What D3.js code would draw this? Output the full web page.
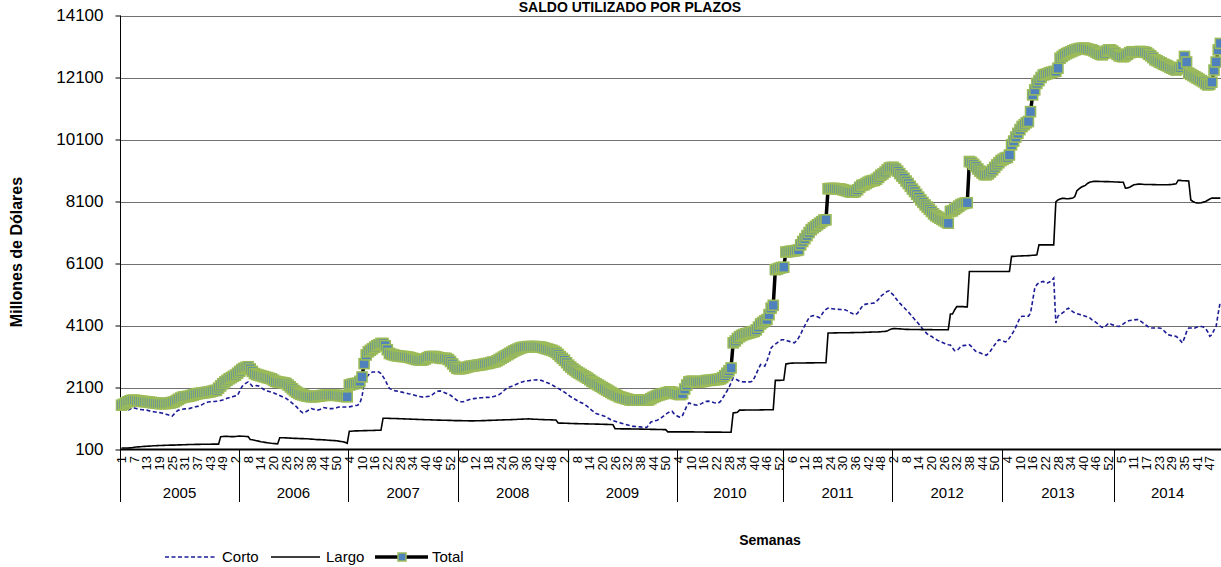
<!DOCTYPE html>
<html>
<head>
<meta charset="utf-8">
<script src="https://cdn.jsdelivr.net/npm/d3@7"></script>
<style>
body { margin: 0; background: #fff; }
svg { display: block; }
text { font-family: "Liberation Sans", Arial, sans-serif; fill: #000; }
</style>
</head>
<body>
<script>
// categories: one per week, grouped by year
var years = ['2005', '2006', '2007', '2008', '2009', '2010', '2011', '2012', '2013', '2014']
var weeksPerYear = [56, 52, 52, 52, 52, 50, 52, 52, 53, 51]

// week labels shown on the axis (every 6th category)
var weekTicks = [1,7,13,19,25,31,37,43,49, 2,8,14,20,26,32,38,44,50, 4,10,16,22,28,34,40,46,52,
	6,12,18,24,30,36,42,48, 2,8,14,20,26,32,38,44,50, 4,10,16,22,28,34,40,46,52,
	6,12,18,24,30,36,42,48, 2,8,14,20,26,32,38,44,50, 4,10,16,22,28,34,40,46,52,
	5,11,17,23,29,35,41,47]

var yTicks = [100, 2100, 4100, 6100, 8100, 10100, 12100, 14100]

// Corto (short term), millions of dollars
var corto = [
	1370,1380,1370,1375,1400,1455,1440,1420,1400,1390, 1380,1375,1370,1350,1330,1320,1310,1300,1290,1280, 1260,1240,1220,1200,1175,1250,1320,1370,1380,1400, 1410,1420,1420,1440,1460,1480,1490,1500,1540,1580, 1610,1630,1640,1650,1650,1655,1660,1680,1700,1730, 1750,1770,1790,1810,1830,1850,
	1980,2120,2200,2240,2280,2220,2140,2150,2160,2150, 2100,2060,2010,1990,1970,1950,1930,1900,1870,1840, 1810,1780,1750,1700,1650,1590,1530,1475,1400,1330, 1280,1300,1340,1380,1420,1400,1380,1370,1390,1420, 1455,1440,1420,1420,1420,1440,1450,1470,1475,1470,1470,1475,
	1475,1490,1500,1520,1530,1600,1800,2230,2400,2500, 2560,2600,2600,2610,2600,2550,2450,2340,2200,2070, 2040,2010,1990,1980,1960,1950,1930,1920,1900,1890, 1870,1850,1830,1810,1800,1790,1800,1810,1820,1850, 1900,1950,1980,1990,1970,1940,1910,1890,1850,1800,1740,1690,
	1660,1640,1640,1660,1690,1710,1730,1740,1750,1760, 1770,1770,1775,1780,1780,1790,1800,1820,1840,1870, 1920,1980,2040,2090,2120,2140,2170,2200,2230,2260, 2280,2300,2310,2320,2330,2340,2340,2345,2340,2330, 2300,2270,2250,2220,2190,2150,2110,2070,2030,1990,1950,1900,
	1850,1800,1760,1720,1680,1640,1610,1580,1530,1480, 1420,1360,1310,1260,1240,1220,1200,1175,1140,1100, 1060,1030,1010,990,970,950,930,910,890,870, 850,845,840,835,830,820,815,810,900,990, 1010,1030,1045,1080,1130,1180,1230,1280,1320,1335,1250,1200,
	1160,1140,1200,1350,1500,1600,1580,1560,1540,1530, 1550,1580,1620,1650,1660,1650,1630,1610,1600,1600, 1650,1750,1870,1980,2100,2250,2410,2380,2340,2300, 2290,2280,2280,2280,2280,2300,2400,2550,2700,2840, 2820,2790,2950,3150,3380,3450,3500,3550,3600,3640,
	3640,3620,3600,3580,3560,3540,3600,3700,3820,3970, 4100,4230,4350,4400,4420,4400,4380,4350,4450,4560, 4620,4660,4650,4640,4630,4625,4620,4615,4610,4610, 4580,4540,4500,4470,4450,4500,4600,4700,4770,4790, 4800,4810,4820,4830,4880,4950,5040,5100,5150,5200,5220,5150,
	5080,4990,4900,4820,4750,4680,4610,4540,4460,4380, 4300,4230,4150,4060,3980,3900,3830,3770,3750,3700, 3660,3620,3590,3560,3530,3500,3480,3470,3380,3290, 3290,3350,3430,3450,3460,3470,3480,3420,3340,3270, 3240,3220,3190,3160,3140,3200,3280,3380,3480,3560,3640,3620,
	3600,3570,3600,3700,3800,3910,4050,4200,4350,4400, 4400,4400,4400,4500,4900,5300,5420,5480,5500,5520, 5480,5470,5500,5550,5630,4180, 4400,4450,4500,4550,4620,4660,4600,4550,4500,4480, 4460,4440,4420,4400,4380,4350,4290,4250,4200,4150, 4080,4040,4060,4100,4180,4150,4120,
	4100,4080,4070,4100,4150,4200,4240,4260,4270,4280, 4290,4290,4250,4200,4150,4100,4050,4020,4020,4020, 4020,4020,4000,3950,3880,3810,3790,3770,3760,3750, 3700,3620,3540,3700,3900,4020,4020,4010,4020,4050, 4070,4070,4050,4000,3900,3750,3800,3950,4070,4500,4880
]

// Largo (long term)
var largo = [
	150,150,150,150,152,155, 170,180,185,190,195,200,205,210,215,220, 222,225,228,230,232,235,238,240,240,242, 245,248,250,252,255,258,260,262,262,264, 265,266,268,268,270,270,271,272,272,273,273, 515,520,525,525,520,515,515,520,525,
	530,528,525,520,515, 420,415,400,385,370,350,340,330,320,310,300,295,290,280, 480,480,478,475,470,468,465,460,458,455, 452,450,448,445,440,435,430,425,420,418, 415,410,405,400,395,390,385,380,370,360,350,330,300,
	690,690,695,700,700,705,705,710,710,712,715,715,718,720,720,720, 1110,1110,1108,1105,1100,1100,1098,1095,1092,1090, 1088,1085,1082,1080,1078,1075,1072,1070,1068,1065, 1062,1060,1058,1055,1052,1050,1048,1046,1045,1044,1042,1040,1038,1035,1032,1030,
	1030,1030,1028,1026,1025,1025,1024,1024,1025,1026, 1028,1030,1032,1035,1038,1040,1042,1045,1048,1050, 1052,1055,1058,1060,1062,1065,1068,1070,1075,1078, 1080,1082,1085,1088,1085,1080,1078,1075,1070,1068, 1065,1062,1060,1058,1055,1052,1050, 955,952,950,948,945,
	942,940,938,935,934,932,930,930,928,927, 925,924,922,920,918,916,914,912,910,908,905,900, 770,768,767,766,766,765,765,764,763,762,760,760, 758,756,755,754,752,750,750,748,746,745,744,742,740,670, 670,670,670,670,
	670,670,670,670,668,668,668,668,665,665,665,665,665,662,662,662,662,660,660,660,660, 658,658,656,655,655, 1280,1290,1300,1370, 1370,1370,1372,1372,1374,1375,1375,1376,1376,1378,1378,1380,1380,1380,1382,1382, 2330,2330,2330,2335,
	2340,2860,2870,2880,2885,2890,2890,2890,2890,2892,2892,2894,2894,2895,2895,2896,2896,2898,2898,2900,2900, 3860,3860,3860,3862,3862,3864,3864,3866,3866,3868,3868,3870,3870,3872,3872,3874,3876,3878,3880,3882,3885,3888,3890,3892,3895,3900,3905,3910,3920,3960,3990,
	4000,4000,3995,3990,3985,3980,3975,3975,3970,3970,3970, 3970,3970,3968,3968,3968,3966,3966,3966,3965,3965,3965,3965,3964,3964,3964,3964, 4470,4470,4600, 4710,4710,4710,4710,4700,4700, 5840,5840,5840,5840,5840,5840,5840,5840,5840,5840,5840,5840,5840,5840,5840,5840,
	5840,5840,5840,5845, 6330,6330,6335,6340,6340,6345,6350,6350,6355,6360,6365,6370,6380, 6700,6700,6700,6700,6700,6700,6700,6700, 8090,8150,8180,8200,8200,8190,8190,8200,8210,8260, 8450,8510,8560,8590,8620,8680,8720, 8740,8750,8750,8750,8745,8745,8740,8740,8740,8735,8735,
	8730,8730,8725,8720,8720, 8530,8540,8560,8600, 8640,8650,8660,8660,8655,8650,8650,8648,8648,8645,8645,8640,8640,8640,8638,8638,8640,8645,8650,8660,8670, 8780,8780,8770,8770,8765,8760, 8150,8100,8070,8050,8050,8060,8080,8100,8140,8180, 8210,8210,8210,8210,8210
]

// Total
var total = [
	1530,1560,1600,1640,1670,1690,1690,1680,1670,1660, 1650,1645,1640,1630,1620,1610,1600,1590,1585,1580, 1580,1585,1590,1600,1620,1640,1680,1720,1760,1790, 1800,1810,1820,1840,1860,1880,1900,1910,1920,1930, 1940,1950,1960,1980,2000,2010,2080,2150,2220,2280, 2330,2380,2420,2460,2500,2560,
	2620,2680,2720,2750,2770,2700,2620,2550,2520,2500, 2480,2460,2440,2420,2400,2380,2340,2300,2280,2270, 2260,2250,2230,2180,2120,2060,2000,1950,1910,1880, 1860,1840,1820,1810,1800,1800,1810,1820,1830,1840, 1850,1850,1850,1850,1850,1850,1850,1840,1830,1820,1810,1800,
	2180,2200,2220,2230,2240,2300,2440,2870,3150,3250, 3300,3350,3400,3450,3480,3520,3520,3450,3320,3200, 3170,3150,3130,3120,3110,3100,3100,3090,3080,3060, 3040,3020,3000,2990,2980,2990,3020,3060,3090,3100, 3100,3090,3070,3050,3040,3040,3040,3000,2940,2860,2780,2720,
	2700,2710,2720,2740,2760,2780,2790,2800,2810,2820, 2830,2840,2860,2870,2880,2900,2920,2930,2960,3000, 3040,3080,3120,3160,3200,3240,3280,3310,3340,3370, 3390,3400,3410,3420,3420,3420,3420,3415,3410,3400, 3380,3360,3340,3320,3300,3270,3230,3170,3100,3040,2980,2900,
	2820,2760,2700,2650,2600,2560,2520,2480,2440,2400, 2350,2300,2260,2220,2180,2140,2100,2060,2020,1980, 1940,1900,1870,1840,1800,1780,1760,1740,1720,1700, 1690,1690,1690,1690,1690,1690,1690,1690,1700,1740, 1780,1810,1840,1860,1880,1900,1920,1940,1960,1950,1920,1900,
	1880,1870,1900,2050,2180,2280,2300,2300,2290,2280, 2280,2290,2300,2320,2330,2330,2340,2350,2360,2360, 2380,2420,2480,2560,2640,2730,3540,3600,3680,3740, 3780,3810,3830,3850,3870,3890,3910,3960,4050,4150, 4200,4250,4290,4450,4660,4750,5900,5920,5950,5970,
	5980,6470,6480,6490,6500,6510,6520,6540,6700,6810, 6900,7000,7100,7190,7250,7300,7350,7400,7450,7500,7510, 8510,8520,8520,8520,8510,8510,8500,8480,8460,8440,8420, 8400,8400,8420,8480,8560,8620,8640,8680,8720,8750, 8770,8780,8820,8880,8950,8990,9050,9120,9180,9200,
	9200,9150,9080,9000,8920,8850,8760,8680,8590,8500, 8420,8330,8240,8150,8070,7990,7920,7850,7780,7700, 7640,7600,7560,7520,7480,7440,7400,7780,7800,7850, 7900,7950,8000,8030,8050,8060,9390,9360,9300,9230, 9150,9080,9020,8970,8960,8990,9050,9120,9200,9280,9350,9420,
	9460,9500,9520,9600,9930,10050,10180,10300,10420,10520, 10580,10640,10680,11000,11540,11700,11910,12000,12100,12180, 12200,12220,12250,12270,12290,12300,12400,12720,12780,12830, 12870,12900,12930,12960,12990,13010,13030,13040,13050,13040, 13020,13000,12990,12960,12920,12880,12850,12830,12880,12950,12990,12990,12950,
	12900,12850,12800,12780,12770,12800,12850,12900,12930,12930, 12920,12930,12940,12930,12920,12900,12850,12800,12740,12670, 12640,12600,12570,12530,12500,12470,12430,12400,12370,12340, 12380,12420,12500,12780,12600,12240,12200,12160,12120,12080, 12040,12000,11960,11900,11860,11880,11950,12340,12600,12990,13200
]

var N = d3.sum(weeksPerYear)
if (corto.length !== N || largo.length !== N || total.length !== N)
	throw new Error('length mismatch ' + N + ' ' + corto.length + ' ' + largo.length + ' ' + total.length)

var width = 1221, height = 567
var left = 120.5, step = 2.109

var svg = d3.select('body').append('svg')
	.attr('width', width)
	.attr('height', height)

var x = d3.scaleLinear().domain([0, N]).range([left, left + N * step])
var y = d3.scaleLinear().domain([100, 14100]).range([449.5, 15.5])
var cx = function(i) { return x(i + 0.5) }

// title sits right at the top edge
svg.append('text')
	.attr('x', 630).attr('y', 12)
	.attr('text-anchor', 'middle')
	.attr('font-size', '14px').attr('font-weight', 'bold')
	.text('SALDO UTILIZADO POR PLAZOS')

// gridlines
svg.append('g').selectAll('line')
	.data(yTicks.slice(1))
	.enter().append('line')
	.attr('x1', left).attr('x2', width)
	.attr('y1', function(d) { return Math.round(y(d)) + 0.5 })
	.attr('y2', function(d) { return Math.round(y(d)) + 0.5 })
	.style('stroke', '#707070').style('stroke-width', 1)

// y axis
var yAxis = svg.append('g')
	.attr('transform', 'translate(' + left + ',0)')
	.call(d3.axisLeft(y).tickValues(yTicks).tickSize(5).tickSizeOuter(0).tickPadding(12).tickFormat(d3.format('d')))
yAxis.select('.domain').remove()
yAxis.selectAll('line').style('stroke', '#000')
yAxis.selectAll('text')
	.attr('font-size', '17px')
	.attr('font-family', '"Liberation Sans", Arial, sans-serif')

svg.append('line')
	.attr('x1', left).attr('x2', left)
	.attr('y1', y(14100)).attr('y2', 502)
	.style('stroke', '#000')

svg.append('line')
	.attr('x1', left).attr('x2', width)
	.attr('y1', y(100)).attr('y2', y(100))
	.style('stroke', '#000').style('stroke-width', 2)

svg.append('text')
	.attr('transform', 'translate(22,252) rotate(-90)')
	.attr('text-anchor', 'middle')
	.attr('font-size', '16px').attr('font-weight', 'bold')
	.text('Millones de Dólares')

// week labels
svg.append('g').selectAll('text')
	.data(weekTicks)
	.enter().append('text')
	.attr('transform', function(d, k) { return 'translate(' + cx(k * 6) + ',456) rotate(-90)' })
	.attr('dy', '0.35em')
	.attr('text-anchor', 'end')
	.attr('font-size', '13px')
	.text(function(d) { return d })

// year bands
var starts = [0]
weeksPerYear.forEach(function(n, k) { starts.push(starts[k] + n) })

svg.append('g').selectAll('line')
	.data(starts.slice(1, -1))
	.enter().append('line')
	.attr('x1', function(d) { return Math.round(x(d)) + 0.5 })
	.attr('x2', function(d) { return Math.round(x(d)) + 0.5 })
	.attr('y1', y(100)).attr('y2', 502)
	.style('stroke', '#000')

svg.append('g').selectAll('text')
	.data(years)
	.enter().append('text')
	.attr('x', function(d, k) { return (x(starts[k]) + x(starts[k + 1])) / 2 })
	.attr('y', 498)
	.attr('text-anchor', 'middle')
	.attr('font-size', '15px')
	.text(function(d) { return d })

svg.append('text')
	.attr('x', 770).attr('y', 545)
	.attr('text-anchor', 'middle')
	.attr('font-size', '14px').attr('font-weight', 'bold')
	.text('Semanas')

// series
var line = d3.line()
	.x(function(d, i) { return cx(i) })
	.y(function(d) { return y(d) })

svg.append('path')
	.datum(corto)
	.attr('d', line)
	.style('fill', 'none')
	.style('stroke', '#1c1c96')
	.style('stroke-width', 1.6)
	.style('stroke-dasharray', '4,2.5')

svg.append('path')
	.datum(largo)
	.attr('d', line)
	.style('fill', 'none')
	.style('stroke', '#000')
	.style('stroke-width', 1.6)

svg.append('path')
	.datum(total)
	.attr('d', line)
	.style('fill', 'none')
	.style('stroke', '#000')
	.style('stroke-width', 3.5)

svg.append('g').selectAll('rect')
	.data(total)
	.enter().append('rect')
	.attr('x', function(d, i) { return cx(i) - 5 })
	.attr('y', function(d) { return y(d) - 5 })
	.attr('width', 10).attr('height', 10)
	.style('fill', '#4f81bd')
	.style('stroke', '#9bbb59')
	.style('stroke-width', 1.6)

// legend
var lg = svg.append('g').attr('transform', 'translate(0,557)')
lg.append('line').attr('x1', 165).attr('x2', 217)
	.style('stroke', '#1c1c96').style('stroke-width', 1.6).style('stroke-dasharray', '4,2.5')
lg.append('text').attr('x', 222).attr('y', 5).attr('font-size', '15px').text('Corto')
lg.append('line').attr('x1', 271).attr('x2', 320)
	.style('stroke', '#000').style('stroke-width', 1.6)
lg.append('text').attr('x', 326).attr('y', 5).attr('font-size', '15px').text('Largo')
lg.append('line').attr('x1', 375).attr('x2', 428)
	.style('stroke', '#000').style('stroke-width', 3.5)
lg.append('rect').attr('x', 398).attr('y', -4).attr('width', 8).attr('height', 8)
	.style('fill', '#4f81bd').style('stroke', '#9bbb59').style('stroke-width', 1.5)
lg.append('text').attr('x', 432).attr('y', 5).attr('font-size', '15px').text('Total')
</script>
</body>
</html>
